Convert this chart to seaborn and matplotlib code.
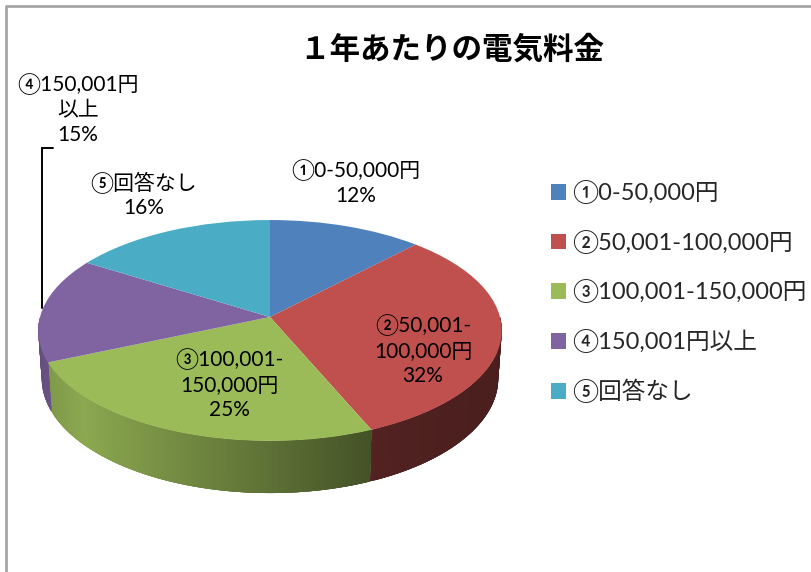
import numpy as np
import matplotlib
matplotlib.use("Agg")
import matplotlib.pyplot as plt
import matplotlib.transforms as mtransforms
import seaborn as sns

categories = ["①0-50,000円", "②50,001-100,000円", "③100,001-150,000円", "④150,001円以上", "⑤回答なし"]
values = [12.1, 31.5, 24.9, 15.4, 16.1]
colors = ["#4f81bd", "#c0504d", "#9bbb59", "#8064a2", "#4bacc6"]
title = "１年あたりの電気料金"

label_text = ["①0-50,000円\n{}", "②50,001-\n100,000円\n{}", "③100,001-\n150,000円\n{}", "④150,001円\n以上\n{}", "⑤回答なし\n{}"]
label_pos = [(356, 183), (423, 350), (229, 384), (78, 109), (144, 195)]

sns.set_theme(style="white")
fonts = ["Lato", "DejaVu Sans", "Noto Sans CJK JP"]
plt.rcParams["font.family"] = fonts

# tilted disc, far side a bit smaller like the excel 3d pie
CX, CY = 270, 317
RX, RY = 230, 108.8
K = 0.122
DEPTH = 47.4
SHRINK = 0.985


def project(x, y, low=False):
    w = 1 + K * y
    s = SHRINK if low else 1.0
    px = CX + s * RX * x / w
    py = CY - s * RY * y / w
    if low:
        py = py + DEPTH / w
    return px, py


class Persp(mtransforms.Transform):
    input_dims = 2
    output_dims = 2

    def transform_non_affine(self, values):
        px, py = project(values[:, 0], values[:, 1])
        return np.column_stack([px, py])


fig = plt.figure(figsize=(8.12, 5.72), dpi=100)
ax = fig.add_axes([0, 0, 1, 1])

palette = sns.color_palette(colors)
wedges, _ = ax.pie(values, colors=palette, startangle=90, counterclock=False,
                   wedgeprops={"linewidth": 0})

persp = Persp()
for w in wedges:
    w.set_transform(persp + ax.transData)
    w.set_zorder(3)
    w.set_clip_on(False)

# side wall, thin strips with shading by x
# pie gives negative angles when clockwise so try both turns
# each strip runs to the end of the wedge side a bit so no seams show
for w, col in zip(wedges, palette):
    for turn in (-360, 0, 360):
        t1 = max(w.theta1 + turn, 180)
        t2 = min(w.theta2 + turn, 360)
        if t2 <= t1:
            continue
        steps = np.linspace(t1, t2, int((t2 - t1) * 2) + 2)
        for a, b in zip(steps[:-1], steps[1:]):
            ts = np.radians(np.linspace(a, min(b + 1.5, t2), 4))
            xs, ys = np.cos(ts), np.sin(ts)
            top_x, top_y = project(xs, ys)
            low_x, low_y = project(xs[::-1], ys[::-1], low=True)
            f = np.interp(np.cos(np.radians(a)), [-1, -0.75, 0, 0.43, 1], [0.78, 0.9, 0.6, 0.42, 0.38])
            c = tuple(np.array(col) * f)
            ax.fill(np.r_[top_x, low_x], np.r_[top_y, low_y], color=c, lw=0, zorder=2)

for txt, pos, v in zip(label_text, label_pos, values):
    ax.text(pos[0], pos[1], txt.format(f"{v:.0f}%"), ha="center", va="center",
            fontsize=15, linespacing=1.3, color="black", zorder=5)

ax.text(452, 50, title, ha="center", va="center", fontsize=22, fontweight="bold",
        color="black", family=["Noto Sans CJK JP", "DejaVu Sans"])

# leader line for label 4
ax.plot([42, 42, 53], [308, 148, 148], color="black", lw=1.4, zorder=4, solid_joinstyle="miter")

# chart frame, runs off the picture on the right and bottom
ax.plot([6, 6, 830], [590, 6, 6], color="#a6a6a6", lw=2, zorder=1)

leg = ax.legend(wedges, categories, loc="upper left", bbox_to_anchor=(551, 180),
                bbox_transform=ax.transData, frameon=False, fontsize=17,
                handlelength=0.64, handleheight=0.64, handletextpad=0.25,
                labelspacing=1.09, borderpad=0, borderaxespad=0)

ax.set_aspect("auto")
ax.set_xlim(0, 812)
ax.set_ylim(572, 0)
ax.axis("off")

fig.savefig("out.png", dpi=100)
